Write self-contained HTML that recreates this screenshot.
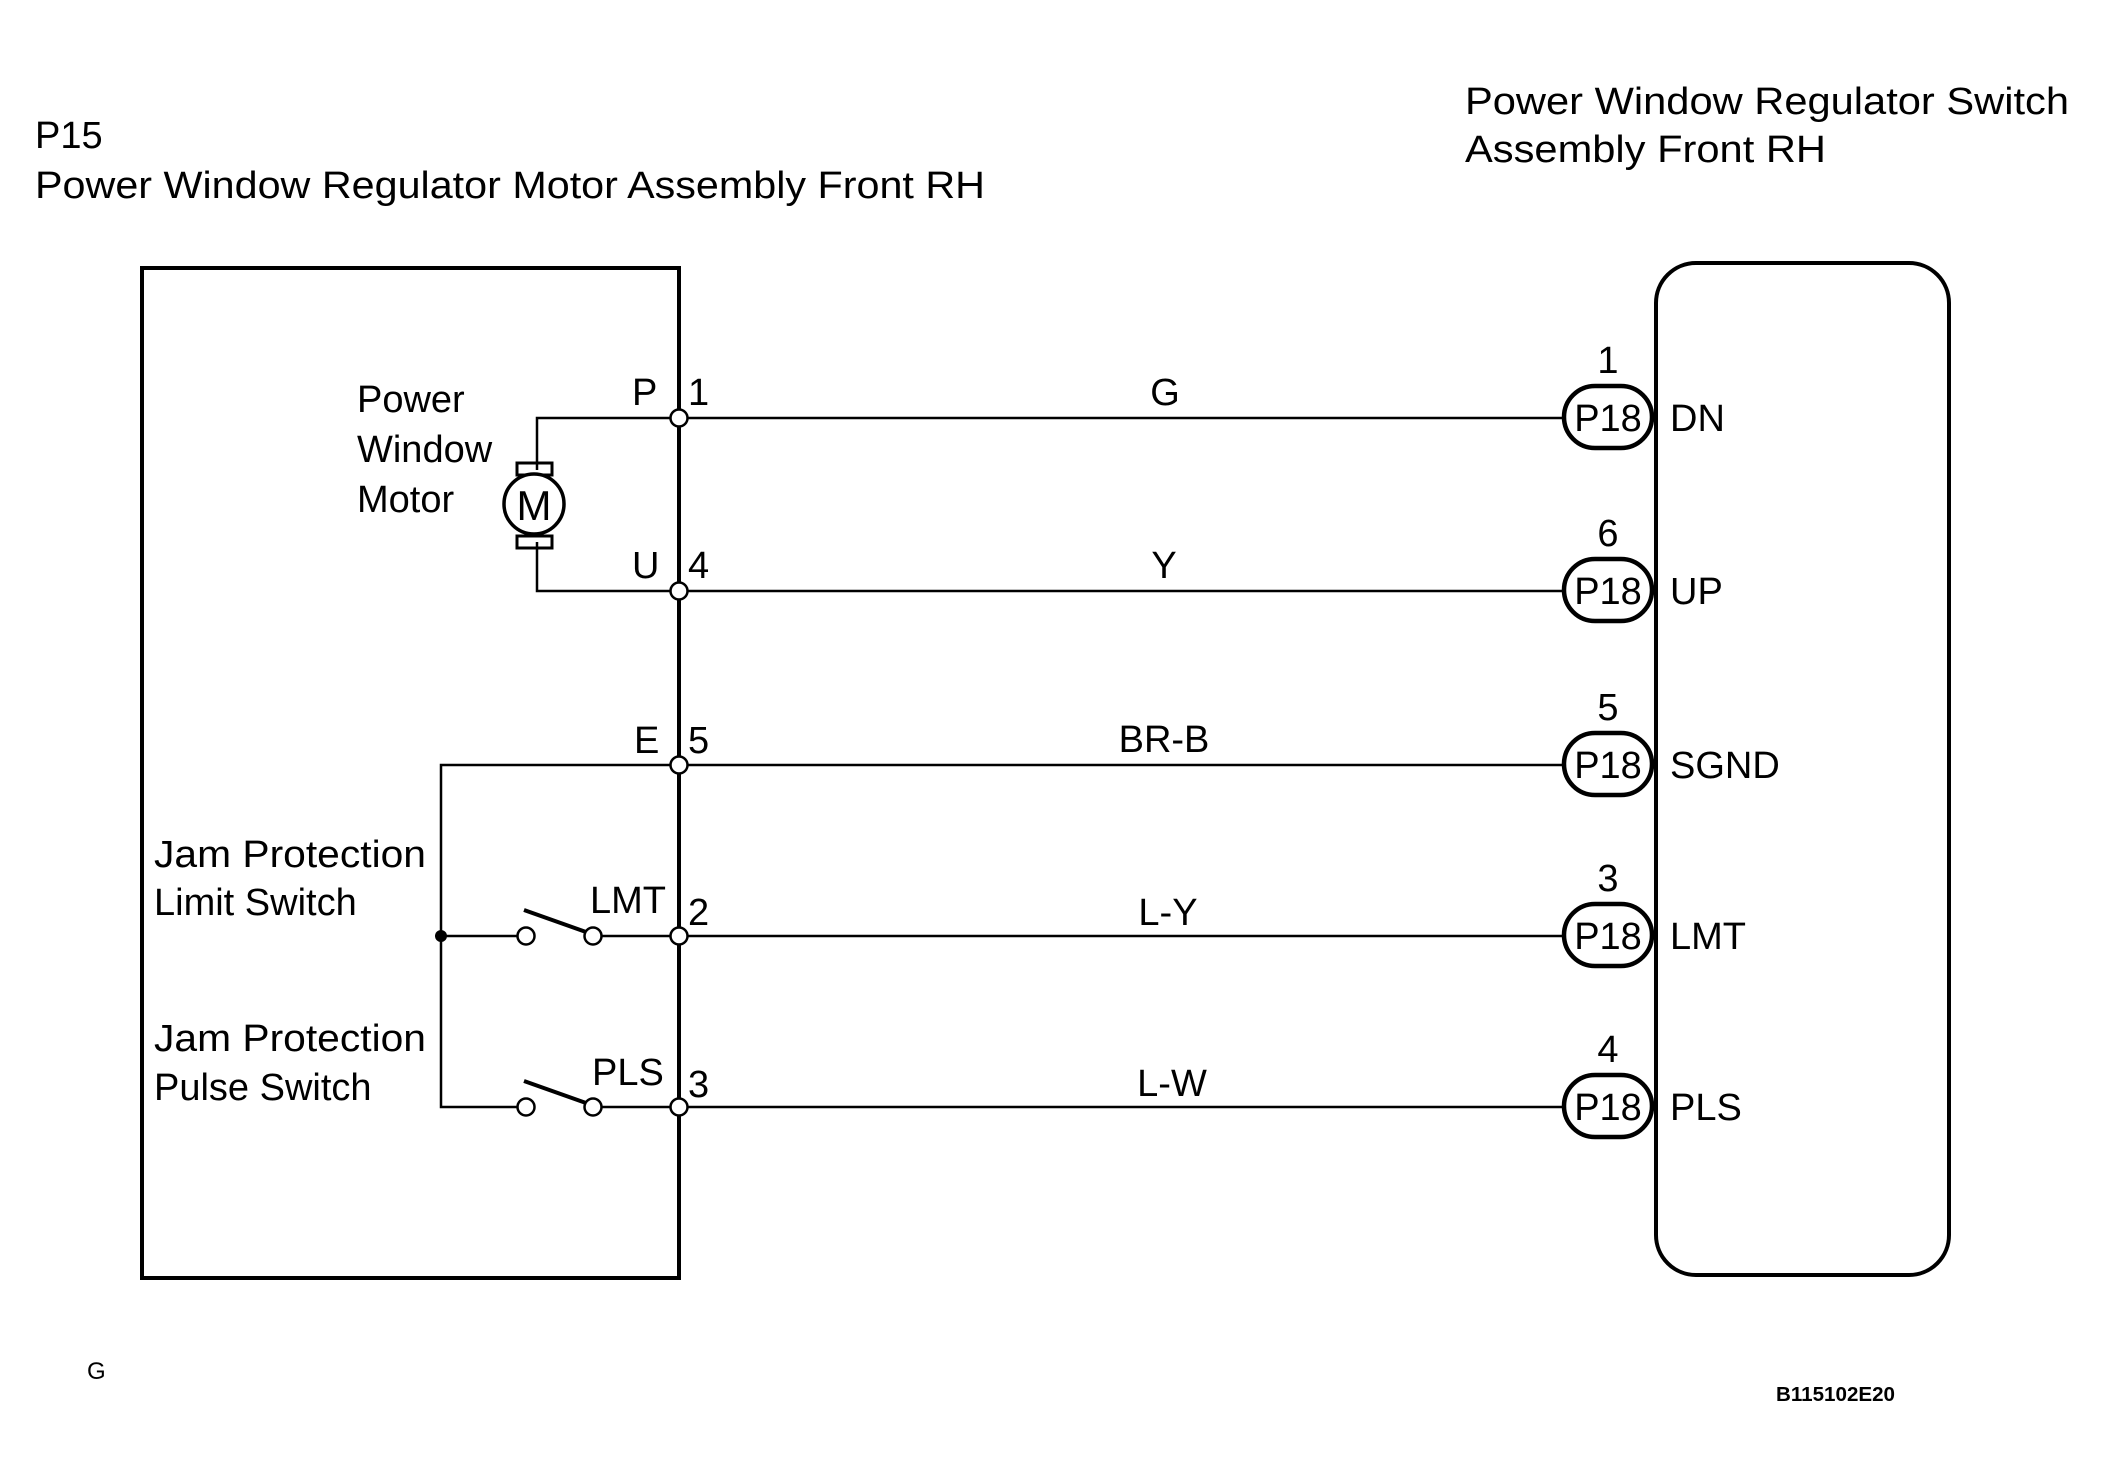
<!DOCTYPE html>
<html><head><meta charset="utf-8"><style>
html,body{margin:0;padding:0;background:#fff;}
svg{display:block}
text{font-family:"Liberation Sans",sans-serif;fill:#000;}
</style></head><body>
<svg width="2103" height="1473" viewBox="0 0 2103 1473" xmlns="http://www.w3.org/2000/svg">
<g font-size="38">
<text x="35" y="148">P15</text>
<text x="35" y="198" textLength="950" lengthAdjust="spacingAndGlyphs">Power Window Regulator Motor Assembly Front RH</text>
<text x="1465" y="114" textLength="604" lengthAdjust="spacingAndGlyphs">Power Window Regulator Switch</text>
<text x="1465" y="162" textLength="361" lengthAdjust="spacingAndGlyphs">Assembly Front RH</text>
</g>
<polyline points="678,268 142,268 142,1278 678,1278" fill="none" stroke="#000" stroke-width="4"/>
<line x1="679" y1="266" x2="679" y2="1280" stroke="#000" stroke-width="4"/>
<rect x="1656" y="263" width="293" height="1012" rx="40" ry="40" fill="none" stroke="#000" stroke-width="4"/>
<polyline points="679,418 537,418 537,470" fill="none" stroke="#000" stroke-width="2.5"/>
<polyline points="679,591 537,591 537,542" fill="none" stroke="#000" stroke-width="2.5"/>
<rect x="517" y="463" width="35" height="12" fill="none" stroke="#000" stroke-width="3"/>
<rect x="517" y="536" width="35" height="12" fill="none" stroke="#000" stroke-width="3"/>
<circle cx="534" cy="504" r="30" fill="#fff" stroke="#000" stroke-width="3.5"/>
<text x="534" y="520" font-size="42" text-anchor="middle">M</text>
<polyline points="679,765 441,765 441,1107 520,1107" fill="none" stroke="#000" stroke-width="2.5"/>
<line x1="441" y1="936" x2="520" y2="936" stroke="#000" stroke-width="2.5"/>
<line x1="602" y1="936" x2="679" y2="936" stroke="#000" stroke-width="2.5"/>
<line x1="602" y1="1107" x2="679" y2="1107" stroke="#000" stroke-width="2.5"/>
<circle cx="441" cy="936" r="6" fill="#000"/>
<line x1="524" y1="910" x2="586" y2="932" stroke="#000" stroke-width="4"/>
<line x1="524" y1="1081" x2="586" y2="1103" stroke="#000" stroke-width="4"/>
<g fill="#fff" stroke="#000" stroke-width="2.5">
<circle cx="526" cy="936" r="8.5"/><circle cx="593" cy="936" r="8.5"/>
<circle cx="526" cy="1107" r="8.5"/><circle cx="593" cy="1107" r="8.5"/>
</g>
<g stroke="#000" stroke-width="2.5">
<line x1="679" y1="418" x2="1562" y2="418"/>
<line x1="679" y1="591" x2="1562" y2="591"/>
<line x1="679" y1="765" x2="1562" y2="765"/>
<line x1="679" y1="936" x2="1562" y2="936"/>
<line x1="679" y1="1107" x2="1562" y2="1107"/>
</g>
<g fill="#fff" stroke="#000" stroke-width="2.5">
<circle cx="679" cy="418" r="8.5"/><circle cx="679" cy="591" r="8.5"/><circle cx="679" cy="765" r="8.5"/>
<circle cx="679" cy="936" r="8.5"/><circle cx="679" cy="1107" r="8.5"/>
</g>
<g fill="#fff" stroke="#000" stroke-width="4.5">
<rect x="1564" y="386" width="88" height="62" rx="31"/>
<rect x="1564" y="559" width="88" height="62" rx="31"/>
<rect x="1564" y="733" width="88" height="62" rx="31"/>
<rect x="1564" y="904" width="88" height="62" rx="31"/>
<rect x="1564" y="1075" width="88" height="62" rx="31"/>
</g>
<g font-size="38" text-anchor="middle">
<text x="1608" y="431">P18</text>
<text x="1608" y="604">P18</text>
<text x="1608" y="778">P18</text>
<text x="1608" y="949">P18</text>
<text x="1608" y="1120">P18</text>
<text x="1608" y="373">1</text>
<text x="1608" y="546">6</text>
<text x="1608" y="720">5</text>
<text x="1608" y="891">3</text>
<text x="1608" y="1062">4</text>
<text x="1165" y="405">G</text>
<text x="1164" y="578">Y</text>
<text x="1164" y="752">BR-B</text>
<text x="1168" y="925">L-Y</text>
<text x="1172" y="1096">L-W</text>
</g>
<g font-size="38">
<text x="1670" y="431">DN</text>
<text x="1670" y="604">UP</text>
<text x="1670" y="778">SGND</text>
<text x="1670" y="949">LMT</text>
<text x="1670" y="1120">PLS</text>
<text x="357" y="412">Power</text>
<text x="357" y="462">Window</text>
<text x="357" y="512">Motor</text>
<text x="632" y="405">P</text>
<text x="688" y="405">1</text>
<text x="632" y="578">U</text>
<text x="688" y="578">4</text>
<text x="634" y="753">E</text>
<text x="688" y="753">5</text>
<text x="590" y="913">LMT</text>
<text x="688" y="925">2</text>
<text x="592" y="1085">PLS</text>
<text x="688" y="1097">3</text>
<text x="154" y="867" textLength="272" lengthAdjust="spacingAndGlyphs">Jam Protection</text>
<text x="154" y="915">Limit Switch</text>
<text x="154" y="1051" textLength="272" lengthAdjust="spacingAndGlyphs">Jam Protection</text>
<text x="154" y="1100">Pulse Switch</text>
</g>
<text x="87" y="1379" font-size="24" font-family="Liberation Mono">G</text>
<text x="1776" y="1401" font-size="20" font-weight="bold" textLength="119" lengthAdjust="spacingAndGlyphs">B115102E20</text>
</svg>
</body></html>
